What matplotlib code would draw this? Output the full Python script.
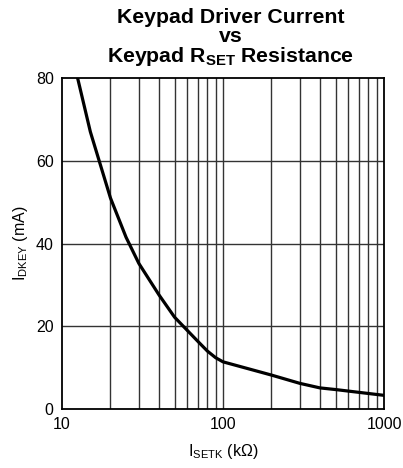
import matplotlib
matplotlib.use("Agg")
import matplotlib.pyplot as plt
import numpy as np

plt.rcParams['font.family'] = ['Liberation Sans', 'DejaVu Sans']
plt.rcParams['mathtext.default'] = 'regular'

r_set = [12.5, 15, 20, 25, 30, 40, 50, 60, 70, 80, 90, 100, 200, 300, 400, 500, 1000]
i_dkey = [80, 67.0, 51.0, 41.5, 35.2, 27.6, 22.2, 19.0, 16.3, 14.0, 12.4, 11.4, 8.2, 6.2, 5.1, 4.7, 3.3]
y_ticks = [0, 20, 40, 60, 80]
x_ticks = [10, 100, 1000]

fig = plt.figure(figsize=(4.03, 4.68), dpi=100)
ax = fig.add_axes([62/403, 1-409/468, (384-62)/403, (409-78)/468])

ax.set_xscale('log')
ax.set_xlim(10, 1000)
ax.set_ylim(0, 80)

minor = [m * d for d in (10, 100) for m in range(2, 10)]
for xv in minor:
    ax.axvline(xv, color='#333333', lw=1.0, zorder=1)
for yv in y_ticks[1:-1]:
    ax.axhline(yv, color='#333333', lw=1.0, zorder=1)
ax.axvline(100, color='#333333', lw=1.0, zorder=1)

ax.plot(r_set, i_dkey, color='black', lw=2.3, zorder=3, solid_joinstyle='round')

ax.set_xticks(x_ticks)
ax.set_xticklabels([str(v) for v in x_ticks])
ax.set_xticks([], minor=True)
ax.set_yticks(y_ticks)
ax.set_yticklabels([str(v) for v in y_ticks])
ax.tick_params(axis='both', which='both', length=0, labelsize=11.5, pad=6)

for s in ax.spines.values():
    s.set_linewidth(1.3)
    s.set_color('black')

ax.set_xlabel(r'I$_{SETK}$ (k$\Omega$)', fontsize=11.5, labelpad=7)
ax.set_ylabel(r'I$_{DKEY}$ (mA)', fontsize=11.5, labelpad=4)

fig.text(231/403, 1-8/468, 'Keypad Driver Current\nvs\n' + r'Keypad R$_{SET}$ Resistance',
         ha='center', va='top', fontsize=15.3, fontweight='bold', linespacing=0.98)

fig.savefig('out.png', dpi=100)
